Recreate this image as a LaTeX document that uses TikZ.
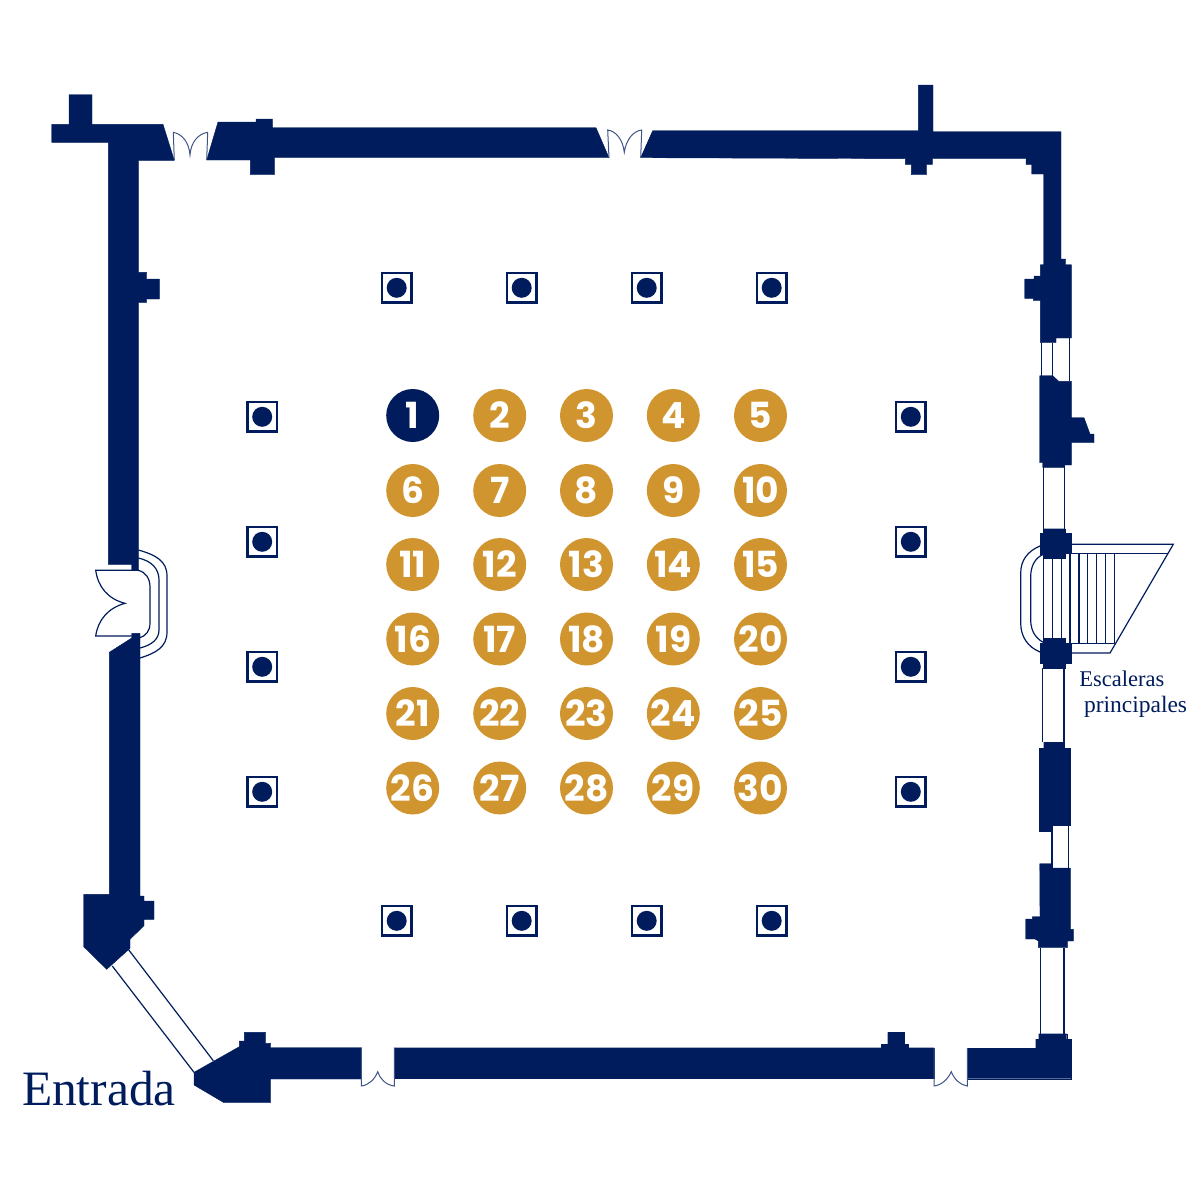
\documentclass[tikz,border=0pt]{standalone}
\usepackage{fontspec}
\setmainfont{Liberation Serif}
\newfontfamily\seatfont{Poppins}[BoldFont={Poppins Bold}]
\definecolor{planblue}{HTML}{001C5C}
\definecolor{seatgold}{HTML}{D1952F}
\tikzset{
  wallfill/.style={fill=planblue,draw=planblue,line join=miter,line width=0.400pt},
  thinline/.style={draw=planblue,line join=miter,line cap=butt,line width=1.200pt},
  doorline/.style={draw=planblue!75,line join=miter,line cap=butt,line width=1.000pt},
  seatmark/.style={circle,fill=seatgold,text=white,minimum size=53pt,font=\seatfont\bfseries\fontsize{36}{36}\selectfont},
  seatfirst/.style={seatmark,fill=planblue},
  pillarbox/.style={rectangle,draw=planblue,fill=white,line width=2.400pt,minimum size=29.2pt},
  pillardot/.style={circle,fill=planblue,minimum size=20pt},
  planlabel/.style={anchor=base west,text=planblue}
}
\begin{document}
\begin{tikzpicture}[y=1.00pt, x=1.00pt, yscale=-1.000000, xscale=1.000000, inner sep=0pt, outer sep=0pt]
  \useasboundingbox (0,0) rectangle (1200,1200);
  \path[wallfill]
    (51.7,124.3) -- (69.0,124.3) -- (69.0,94.7) -- (92.0,94.7) -- (92.0,124.3) --
    (163.0,124.3) -- (174.3,160.3) -- (138.7,160.3) -- (138.7,272.3) -- (146.7,272.3) --
    (146.7,279.0) -- (159.3,279.0) -- (159.3,299.0) -- (146.7,299.0) -- (146.7,302.3) --
    (138.7,302.3) -- (138.7,570.0) -- (131.7,570.0) -- (131.7,564.3) -- (108.3,564.3) --
    (108.3,142.3) -- (51.7,142.3) -- cycle;
  \path[wallfill]
    (131.7,633.3) -- (140.0,633.3) -- (140.0,896.0) -- (144.0,896.0) -- (144.0,901.0) --
    (154.0,901.0) -- (154.0,919.3) -- (144.0,919.3) -- (144.0,925.7) -- (130.0,939.3) --
    (130.0,948.3) -- (106.7,969.3) -- (83.7,946.7) -- (83.7,894.3) -- (109.3,894.3) --
    (109.3,652.3) -- (131.7,638.0) -- cycle;
  \path[wallfill]
    (194.0,1072.3) -- (239.3,1046.7) -- (239.3,1041.0) -- (244.3,1041.0) -- (244.3,1032.3) --
    (265.7,1032.3) -- (265.7,1043.3) -- (270.7,1043.3) -- (270.7,1047.7) -- (361.3,1047.7) --
    (361.3,1079.0) -- (270.7,1079.0) -- (270.7,1102.7) -- (224.0,1102.7) -- (194.0,1085.0) -- cycle;
  \path[wallfill]
    (394.3,1047.7) -- (881.0,1047.7) -- (881.0,1044.3) -- (887.7,1044.3) -- (887.7,1032.3) --
    (904.0,1032.3) -- (904.0,1044.3) -- (908.3,1044.3) -- (908.3,1047.7) -- (934.0,1047.7) --
    (934.0,1078.5) -- (394.3,1078.5) -- cycle;
  \path[wallfill]
    (967.3,1048.0) -- (1035.7,1048.0) -- (1035.7,1039.0) -- (1038.7,1039.0) -- (1038.7,1033.7) --
    (1066.7,1033.7) -- (1066.7,1039.0) -- (1071.5,1039.0) -- (1071.5,1078.7) -- (967.3,1078.7) -- cycle;
  \path[wallfill]
    (206.7,160.0) -- (218.0,122.0) -- (256.0,122.0) -- (256.0,119.0) -- (272.3,119.0) --
    (272.3,127.7) -- (596.0,127.7) -- (609.0,157.7) -- (274.3,157.7) -- (274.3,174.7) --
    (250.3,174.7) -- (250.3,160.0) -- cycle;
  \path[wallfill]
    (640.7,157.7) -- (652.7,130.7) -- (918.3,130.7) -- (918.3,85.0) -- (933.0,85.0) --
    (933.0,131.7) -- (1061.0,131.7) -- (1061.0,259.0) -- (1065.7,259.0) -- (1065.7,264.7) --
    (1071.3,264.7) -- (1071.3,338.0) -- (1056.0,338.0) -- (1056.0,342.7) -- (1040.3,342.7) --
    (1040.3,300.3) -- (1033.3,300.3) -- (1033.3,298.3) -- (1024.7,298.3) -- (1024.7,279.0) --
    (1034.0,279.0) -- (1034.0,276.0) -- (1040.3,276.0) -- (1040.3,264.7) -- (1043.7,264.7) --
    (1043.7,174.0) -- (1031.7,174.0) -- (1031.7,164.3) -- (1026.0,164.3) -- (1026.0,158.7) --
    (932.3,158.7) -- (932.3,164.3) -- (926.7,164.3) -- (926.7,174.7) -- (911.3,174.7) --
    (911.3,164.3) -- (905.3,164.3) -- (905.3,158.7) -- cycle;
  \path[wallfill]
    (1039.7,375.7) -- (1052.7,375.7) -- (1058.7,381.3) -- (1071.3,381.3) -- (1071.3,417.7) --
    (1084.0,417.7) -- (1090.0,434.0) -- (1094.0,434.0) -- (1094.0,442.7) -- (1071.3,442.7) --
    (1071.3,465.0) -- (1064.7,465.0) -- (1064.7,467.3) -- (1042.7,467.3) -- (1042.7,462.7) --
    (1039.7,462.7) -- cycle;
  \path[wallfill]
    (1043.3,528.7) -- (1065.0,528.7) -- (1065.0,533.3) -- (1071.3,533.3) -- (1071.3,553.3) --
    (1065.0,553.3) -- (1065.0,558.3) -- (1043.3,558.3) -- (1043.3,554.3) -- (1040.0,554.3) --
    (1040.0,533.3) -- (1043.3,533.3) -- cycle;
  \path[wallfill]
    (1043.3,638.3) -- (1065.0,638.3) -- (1065.0,643.3) -- (1071.3,643.3) -- (1071.3,663.3) --
    (1065.0,663.3) -- (1065.0,668.3) -- (1043.3,668.3) -- (1043.3,663.3) -- (1040.0,663.3) --
    (1040.0,643.3) -- (1043.3,643.3) -- cycle;
  \path[wallfill]
    (1043.7,742.0) -- (1064.3,742.0) -- (1064.3,748.3) -- (1070.3,748.3) -- (1070.3,825.0) --
    (1052.0,825.0) -- (1052.0,831.0) -- (1039.0,831.0) -- (1039.0,748.3) -- (1043.7,748.3) -- cycle;
  \path[wallfill]
    (1039.7,863.7) -- (1052.0,863.7) -- (1052.0,868.0) -- (1070.3,868.0) -- (1070.3,929.3) --
    (1073.3,929.3) -- (1073.3,941.0) -- (1067.3,941.0) -- (1067.3,947.7) -- (1038.3,947.7) --
    (1038.3,941.0) -- (1035.0,939.0) -- (1025.7,939.0) -- (1025.7,919.0) -- (1032.3,919.0) --
    (1032.3,916.7) -- (1040.0,916.7) -- cycle;
  \path[doorline]
    (174.3,160.0) -- (173.3,132.3) .. controls (182.0,134.0) and (189.0,142.0) .. (190.0,155.0)
    .. controls (191.0,142.0) and (198.0,134.0) .. (207.7,132.3) -- (206.7,160.0);
  \path[doorline]
    (609.0,157.7) -- (607.7,130.0) .. controls (616.0,131.0) and (623.0,140.0) .. (624.3,152.3)
    .. controls (626.0,140.0) and (633.0,131.0) .. (641.7,130.0) -- (640.7,157.7);
  \path[doorline]
    (361.3,1047.7) -- (361.3,1086.0) .. controls (369.0,1085.0) and (375.0,1079.0) .. (377.7,1071.7)
    .. controls (380.0,1079.0) and (386.0,1085.0) .. (394.3,1086.0) -- (394.3,1047.7);
  \path[doorline]
    (934.0,1048.0) -- (934.0,1086.0) .. controls (942.0,1085.0) and (948.0,1079.0) .. (951.3,1071.7)
    .. controls (954.0,1079.0) and (960.0,1085.0) .. (967.3,1086.0) -- (967.3,1048.0);
  \path[thinline]
    (138.0,570.3) -- (95.7,570.3) .. controls (98.0,587.0) and (108.0,599.0) .. (125.0,603.3)
    .. controls (108.0,608.0) and (98.0,620.0) .. (95.7,636.0) -- (131.7,636.0);
  \path[thinline]
    (138.0,570.3) .. controls (146.0,572.0) and (150.0,579.0) .. (150.0,587.0) -- (150.0,623.0)
    .. controls (150.0,631.0) and (146.0,636.0) .. (139.0,638.0);
  \path[thinline]
    (138.3,558.0) .. controls (152.0,561.0) and (159.0,569.0) .. (159.0,580.0) -- (159.0,630.0)
    .. controls (159.0,639.0) and (152.0,645.0) .. (140.0,648.0);
  \path[thinline]
    (138.3,550.0) .. controls (156.0,555.0) and (167.0,561.0) .. (167.0,576.0) -- (167.0,632.0)
    .. controls (167.0,647.0) and (156.0,653.0) .. (140.0,658.0);
  \path[thinline] (112.3,966.0) -- (194.0,1072.3);
  \path[thinline] (128.3,949.3) -- (213.3,1060.7);
  \path[thinline] (1041.7,342.7) -- (1041.7,375.7);
  \path[thinline] (1052.7,342.7) -- (1052.7,375.7);
  \path[thinline] (1069.3,338.0) -- (1069.3,381.3);
  \path[thinline] (1043.3,467.3) -- (1043.3,528.7);
  \path[thinline] (1064.3,465.0) -- (1064.3,528.7);
  \path[thinline] (1043.3,558.3) -- (1043.3,638.3);
  \path[thinline] (1052.7,558.3) -- (1052.7,638.3);
  \path[thinline] (1061.7,558.3) -- (1061.7,638.3);
  \path[thinline] (1070.0,553.3) -- (1070.0,643.3);
  \path[thinline] (1079.0,553.7) -- (1079.0,643.3);
  \path[thinline] (1087.7,553.7) -- (1087.7,643.3);
  \path[thinline] (1096.7,553.7) -- (1096.7,643.3);
  \path[thinline] (1105.3,553.7) -- (1105.3,643.3);
  \path[thinline] (1114.7,553.7) -- (1114.7,643.3);
  \path[thinline] (1071.3,544.3) -- (1173.3,544.3) -- (1110.0,653.0) -- (1071.3,653.0);
  \path[thinline] (1071.3,553.7) -- (1167.7,553.7);
  \path[thinline] (1071.3,643.3) -- (1114.7,643.3);
  \path[thinline]
    (1040.0,546.0) .. controls (1028.0,551.0) and (1020.7,560.0) .. (1020.7,573.0) -- (1020.7,623.0)
    .. controls (1020.7,637.0) and (1028.0,647.0) .. (1040.0,652.0);
  \path[thinline]
    (1043.3,554.3) .. controls (1035.0,558.0) and (1030.7,566.0) .. (1030.7,576.7) -- (1030.7,620.0)
    .. controls (1030.7,630.0) and (1035.0,638.0) .. (1043.3,642.3);
  \path[thinline] (1042.7,668.3) -- (1042.7,742.0);
  \path[thinline] (1064.0,668.3) -- (1064.0,742.0);
  \path[thinline] (1052.0,825.0) -- (1052.0,868.0);
  \path[thinline] (1068.3,825.0) -- (1068.3,868.0);
  \path[thinline] (1040.7,947.7) -- (1040.7,1033.7);
  \path[thinline] (1064.0,947.7) -- (1064.0,1033.7);
  \path (396.7,287.8) node[pillarbox] (pillarn1) {} node[pillardot] (dotn1) {};
  \path (521.7,287.8) node[pillarbox] (pillarn2) {} node[pillardot] (dotn2) {};
  \path (646.7,287.8) node[pillarbox] (pillarn3) {} node[pillardot] (dotn3) {};
  \path (771.7,287.8) node[pillarbox] (pillarn4) {} node[pillardot] (dotn4) {};
  \path (396.7,920.8) node[pillarbox] (pillars1) {} node[pillardot] (dots1) {};
  \path (521.7,920.8) node[pillarbox] (pillars2) {} node[pillardot] (dots2) {};
  \path (646.7,920.8) node[pillarbox] (pillars3) {} node[pillardot] (dots3) {};
  \path (771.7,920.8) node[pillarbox] (pillars4) {} node[pillardot] (dots4) {};
  \path (262.2,416.8) node[pillarbox] (pillarw1) {} node[pillardot] (dotw1) {};
  \path (262.2,541.8) node[pillarbox] (pillarw2) {} node[pillardot] (dotw2) {};
  \path (262.2,666.8) node[pillarbox] (pillarw3) {} node[pillardot] (dotw3) {};
  \path (262.2,791.8) node[pillarbox] (pillarw4) {} node[pillardot] (dotw4) {};
  \path (910.8,416.8) node[pillarbox] (pillare1) {} node[pillardot] (dote1) {};
  \path (910.8,541.8) node[pillarbox] (pillare2) {} node[pillardot] (dote2) {};
  \path (910.8,666.8) node[pillarbox] (pillare3) {} node[pillardot] (dote3) {};
  \path (910.8,791.8) node[pillarbox] (pillare4) {} node[pillardot] (dote4) {};
  \path (412.7,415.5) node[seatfirst] (seat1) {1};
  \path (499.7,415.5) node[seatmark] (seat2) {2};
  \path (586.5,415.5) node[seatmark] (seat3) {3};
  \path (673.3,415.5) node[seatmark] (seat4) {4};
  \path (760.5,415.5) node[seatmark] (seat5) {5};
  \path (412.7,490.5) node[seatmark] (seat6) {6};
  \path (499.7,490.5) node[seatmark] (seat7) {7};
  \path (586.5,490.5) node[seatmark] (seat8) {8};
  \path (673.3,490.5) node[seatmark] (seat9) {9};
  \path (760.5,490.5) node[seatmark] (seat10) {10};
  \path (412.7,564.5) node[seatmark] (seat11) {11};
  \path (499.7,564.5) node[seatmark] (seat12) {12};
  \path (586.5,564.5) node[seatmark] (seat13) {13};
  \path (673.3,564.5) node[seatmark] (seat14) {14};
  \path (760.5,564.5) node[seatmark] (seat15) {15};
  \path (412.7,639.0) node[seatmark] (seat16) {16};
  \path (499.7,639.0) node[seatmark] (seat17) {17};
  \path (586.5,639.0) node[seatmark] (seat18) {18};
  \path (673.3,639.0) node[seatmark] (seat19) {19};
  \path (760.5,639.0) node[seatmark] (seat20) {20};
  \path (412.7,713.5) node[seatmark] (seat21) {21};
  \path (499.7,713.5) node[seatmark] (seat22) {22};
  \path (586.5,713.5) node[seatmark] (seat23) {23};
  \path (673.3,713.5) node[seatmark] (seat24) {24};
  \path (760.5,713.5) node[seatmark] (seat25) {25};
  \path (412.7,788.0) node[seatmark] (seat26) {26};
  \path (499.7,788.0) node[seatmark] (seat27) {27};
  \path (586.5,788.0) node[seatmark] (seat28) {28};
  \path (673.3,788.0) node[seatmark] (seat29) {29};
  \path (760.5,788.0) node[seatmark] (seat30) {30};
  \path (22.0,1105.0) node[planlabel,font=\fontsize{49.5}{49.5}\selectfont] (textentrada) {Entrada};
  \path (1079.3,686.7) node[planlabel,font=\fontsize{22.5}{22.5}\selectfont] (textescaleras) {Escaleras};
  \path (1084.0,712.3) node[planlabel,font=\fontsize{23.5}{23.5}\selectfont] (textprincipales) {principales};
\end{tikzpicture}
\end{document}
